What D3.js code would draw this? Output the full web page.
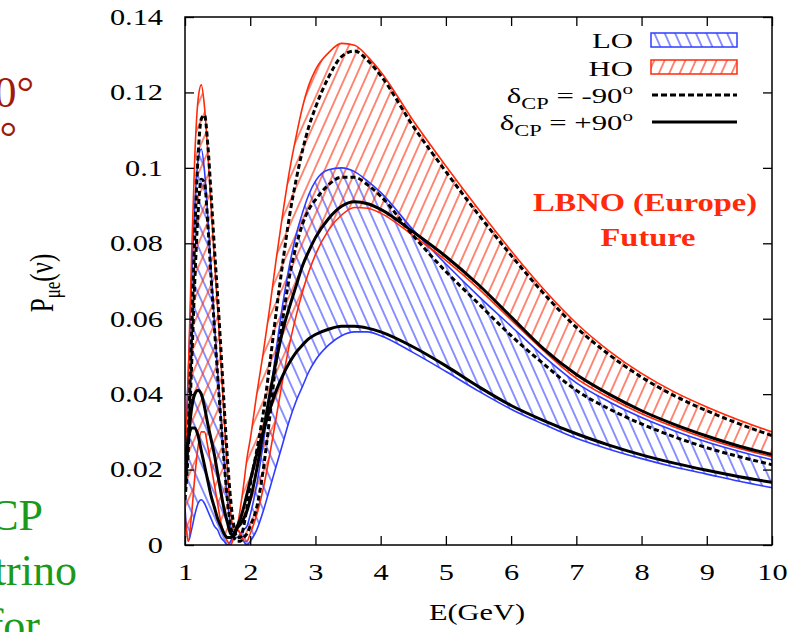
<!DOCTYPE html>
<html>
<head>
<meta charset="utf-8">
<script src="https://cdn.jsdelivr.net/npm/d3@7"></script>
<style>
  body { margin: 0; background: #fff; }
  svg { display: block; }
</style>
</head>
<body>
<svg id="chart" width="811" height="632"></svg>
<script>
// energies (GeV)
const energy = [1.00,1.05,1.10,1.15,1.20,1.25,1.30,1.35,1.40,1.45,1.50,1.55,1.60,1.65,1.70,1.75,1.80,1.85,1.90,1.95,2.00,
  2.1,2.2,2.3,2.4,2.5,2.6,2.7,2.8,2.9,3.0,3.2,3.4,3.6,3.8,4.0,4.5,5.0,5.5,6.0,6.5,7.0,7.5,8.0,8.5,9.0,9.5,10.0];

// HO band edges
const hoUpper = [0.020,0.045,0.076,0.103,0.118,0.122,0.116,0.104,0.090,0.076,0.063,0.049,0.034,0.020,0.009,0.004,0.005,0.010,0.016,0.023,0.028,
  0.040,0.051,0.063,0.076,0.088,0.099,0.108,0.116,0.122,0.126,0.1305,0.133,0.1325,0.1295,0.1255,0.1125,0.1005,0.089,0.078,0.0678,0.0588,0.0515,0.0455,0.0406,0.0366,0.0331,0.030];
const hoLower = [0.008,0.001,0.008,0.018,0.026,0.030,0.030,0.026,0.021,0.016,0.011,0.006,0.003,0.001,0.000,0.002,0.004,0.003,0.001,0.001,0.003,
  0.008,0.015,0.024,0.034,0.044,0.053,0.0605,0.067,0.0725,0.077,0.0835,0.0875,0.0895,0.0893,0.088,0.082,0.0755,0.068,0.0597,0.0515,0.0442,0.0391,0.0348,0.0313,0.0282,0.0256,0.0234];
// LO band edges
const loUpper = [0.025,0.045,0.070,0.090,0.102,0.105,0.099,0.087,0.073,0.059,0.046,0.034,0.022,0.012,0.005,0.002,0.002,0.003,0.004,0.005,0.008,
  0.016,0.027,0.039,0.052,0.064,0.074,0.082,0.088,0.093,0.0965,0.0995,0.100,0.099,0.0965,0.0935,0.0835,0.0745,0.066,0.058,0.050,0.043,0.038,0.0338,0.0303,0.0273,0.0248,0.0226];
const loLower = [0.010,0.001,0.004,0.008,0.011,0.012,0.011,0.009,0.007,0.005,0.004,0.002,0.001,0.000,0.001,0.003,0.004,0.003,0.001,0.000,0.001,
  0.004,0.009,0.015,0.021,0.027,0.033,0.038,0.042,0.046,0.049,0.053,0.0555,0.0565,0.0565,0.0555,0.051,0.046,0.0408,0.036,0.032,0.0283,0.0254,0.0229,0.0207,0.0188,0.0169,0.0152];

// delta_CP = -90 (dashed) and +90 (solid)
const hoMinus90 = [0.015,0.030,0.055,0.082,0.103,0.113,0.114,0.106,0.093,0.079,0.066,0.052,0.037,0.023,0.012,0.005,0.002,0.002,0.005,0.010,0.016,
  0.025,0.035,0.048,0.062,0.075,0.087,0.0965,0.1045,0.111,0.116,0.124,0.1295,0.131,0.1285,0.1245,0.111,0.099,0.0876,0.0768,0.0667,0.0577,0.0505,0.0445,0.0396,0.0356,0.0321,0.029];
const hoPlus90 = [0.018,0.028,0.036,0.040,0.041,0.040,0.0365,0.032,0.028,0.024,0.019,0.014,0.0095,0.006,0.003,0.0025,0.0045,0.0055,0.007,0.009,0.012,
  0.020,0.030,0.040,0.049,0.057,0.063,0.0685,0.074,0.078,0.0815,0.0865,0.0898,0.091,0.0905,0.089,0.083,0.0765,0.069,0.0605,0.052,0.0452,0.040,0.0356,0.032,0.0289,0.0262,0.024];
const loMinus90 = [0.012,0.025,0.047,0.070,0.088,0.097,0.096,0.085,0.071,0.058,0.045,0.033,0.022,0.012,0.005,0.002,0.001,0.001,0.002,0.003,0.005,
  0.010,0.020,0.034,0.049,0.060,0.071,0.079,0.085,0.089,0.0915,0.0955,0.0975,0.0975,0.0955,0.0925,0.082,0.0725,0.064,0.0555,0.048,0.041,0.0361,0.0321,0.0287,0.0258,0.0234,0.0213];
const loPlus90 = [0.022,0.028,0.031,0.031,0.029,0.025,0.021,0.017,0.013,0.010,0.007,0.005,0.003,0.002,0.002,0.003,0.005,0.007,0.010,0.0135,0.017,
  0.024,0.030,0.036,0.041,0.045,0.0483,0.051,0.053,0.0547,0.0558,0.0572,0.058,0.058,0.0575,0.0565,0.0525,0.0475,0.042,0.037,0.033,0.0295,0.0265,0.0239,0.0217,0.0198,0.0181,0.0166];

const xTicks = [1,2,3,4,5,6,7,8,9,10];
const yTicks = [0,0.02,0.04,0.06,0.08,0.1,0.12,0.14];

const red = "#ff2a0a", blue = "#2f3cff";
const serif = "'Liberation Serif', 'DejaVu Serif', serif";
const sx = 1.32; // the plot image is stretched sideways in the slide, so is its text

const svg = d3.select("#chart");
const x = d3.scaleLinear().domain([1, 10]).range([185, 772]);
const y = d3.scaleLinear().domain([0, 0.14]).range([545, 17]);

const defs = svg.append("defs");
function hatch(id, color, angle) {
  defs.append("pattern")
    .attr("id", id)
    .attr("patternUnits", "userSpaceOnUse")
    .attr("width", 9.5).attr("height", 9.5)
    .attr("patternTransform", `rotate(${angle})`)
    .append("line")
    .attr("x1", 4.75).attr("y1", 0).attr("x2", 4.75).attr("y2", 9.5)
    .attr("stroke", color).attr("stroke-width", 1.1);
}
hatch("hatchLO", blue, -24);
hatch("hatchHO", red, 24);

defs.append("clipPath").attr("id", "plotClip")
  .append("rect").attr("x", x(1)).attr("y", y(0.14))
  .attr("width", x(10) - x(1)).attr("height", y(0) - y(0.14));

const plot = svg.append("g").attr("clip-path", "url(#plotClip)");

const band = (lo, hi) => d3.area()
  .x((d, i) => x(energy[i]))
  .y0((d, i) => y(lo[i]))
  .y1((d, i) => y(hi[i]))
  .curve(d3.curveMonotoneX)(energy);
const line = vals => d3.line()
  .x((d, i) => x(energy[i]))
  .y((d, i) => y(vals[i]))
  .curve(d3.curveMonotoneX)(energy);

plot.append("path").attr("d", band(loLower, loUpper)).attr("fill", "url(#hatchLO)");
plot.append("path").attr("d", band(hoLower, hoUpper)).attr("fill", "url(#hatchHO)");

[[loUpper, blue], [loLower, blue], [hoUpper, red], [hoLower, red]].forEach(([v, c]) => {
  plot.append("path").attr("d", line(v)).attr("fill", "none")
    .attr("stroke", c).attr("stroke-width", 1.6);
});

[[hoMinus90, true], [loMinus90, true], [hoPlus90, false], [loPlus90, false]].forEach(([v, dashed]) => {
  plot.append("path").attr("d", line(v)).attr("fill", "none")
    .attr("stroke", "#000").attr("stroke-width", 3)
    .attr("stroke-dasharray", dashed ? "5,3" : null);
});

// frame and inward ticks
svg.append("rect").attr("x", x(1)).attr("y", y(0.14))
  .attr("width", x(10) - x(1)).attr("height", y(0) - y(0.14))
  .attr("fill", "none").attr("stroke", "#000").attr("stroke-width", 1.5);

const axisStyle = g => {
  g.select(".domain").remove();
  g.selectAll("line").attr("stroke", "#000").attr("stroke-width", 1.3);
  g.selectAll("text").attr("font-family", serif).attr("font-size", 23).attr("fill", "#000");
};
svg.append("g").attr("transform", `translate(0,${y(0)})`)
  .call(d3.axisBottom(x).tickValues(xTicks).tickSize(-9).tickFormat(d3.format("d")))
  .call(axisStyle)
  .call(g => g.selectAll("text").attr("y", 35).attr("dy", null).attr("transform", `scale(${sx},1)`));
svg.append("g").attr("transform", `translate(0,${y(0.14)})`)
  .call(d3.axisTop(x).tickValues(xTicks).tickSize(-9).tickFormat(""))
  .call(axisStyle);
svg.append("g").attr("transform", `translate(${x(1)},0)`)
  .call(d3.axisLeft(y).tickValues(yTicks).tickSize(-9).tickFormat(d => d === 0 ? "0" : String(+d.toFixed(2))))
  .call(axisStyle)
  .call(g => g.selectAll("text").attr("x", -22 / sx).attr("transform", `scale(${sx},1)`));
svg.append("g").attr("transform", `translate(${x(10)},0)`)
  .call(d3.axisRight(y).tickValues(yTicks).tickSize(-9).tickFormat(""))
  .call(axisStyle);

// axis titles
svg.append("text").attr("transform", `translate(477,620) scale(${sx},1)`).attr("text-anchor", "middle")
  .attr("font-family", serif).attr("font-size", 23).text("E(GeV)");
const yl = svg.append("text").attr("transform", `translate(53,283) rotate(-90) scale(1,${sx})`)
  .attr("text-anchor", "middle").attr("font-family", serif).attr("font-size", 25);
yl.append("tspan").text("P");
yl.append("tspan").attr("font-size", 17).attr("dy", 5).text("μe");
yl.append("tspan").attr("dy", -5).text("(ν)");

// legend
const legend = svg.append("g").attr("font-family", serif).attr("font-size", 22);
const legendText = (yy) => legend.append("text")
  .attr("transform", `translate(633,${yy}) scale(1.4,1)`).attr("text-anchor", "end");
legendText(48).text("LO");
legendText(76).text("HO");
[["-90", 103], ["+90", 130]].forEach(([v, yy]) => {
  const t = legendText(yy);
  t.append("tspan").text("δ");
  t.append("tspan").attr("font-size", 16).attr("dy", 6).text("CP");
  t.append("tspan").attr("dy", -6).text(` = ${v}`);
  t.append("tspan").attr("font-size", 15).attr("dy", -9).text("o");
});
legend.append("rect").attr("x", 651).attr("y", 33).attr("width", 86).attr("height", 14)
  .attr("fill", "url(#hatchLO)").attr("stroke", blue).attr("stroke-width", 1.5);
legend.append("rect").attr("x", 651).attr("y", 60).attr("width", 86).attr("height", 14)
  .attr("fill", "url(#hatchHO)").attr("stroke", red).attr("stroke-width", 1.5);
legend.append("line").attr("x1", 652).attr("x2", 737).attr("y1", 95).attr("y2", 95)
  .attr("stroke", "#000").attr("stroke-width", 3).attr("stroke-dasharray", "6,3");
legend.append("line").attr("x1", 652).attr("x2", 737).attr("y1", 122).attr("y2", 122)
  .attr("stroke", "#000").attr("stroke-width", 3);

// experiment label
const note = svg.append("g").attr("font-family", serif).attr("font-size", 25)
  .attr("font-weight", "bold").attr("fill", red).attr("text-anchor", "middle");
note.append("text").attr("transform", `translate(645,211) scale(1.3,1)`).text("LBNO (Europe)");
note.append("text").attr("transform", `translate(648,246) scale(1.3,1)`).text("Future");

// cropped slide text at the left edge
const side = svg.append("g").attr("font-family", serif).attr("font-size", 44);
side.append("text").attr("x", 34).attr("y", 107).attr("text-anchor", "end").attr("fill", "#a01a0c").text("0°");
side.append("text").attr("x", 17).attr("y", 152).attr("text-anchor", "end").attr("fill", "#a01a0c").text("°");
side.append("text").attr("x", 43).attr("y", 530).attr("text-anchor", "end").attr("fill", "#1a9a1a").text("CP");
side.append("text").attr("x", 77).attr("y", 585).attr("text-anchor", "end").attr("fill", "#1a9a1a").text("trino");
side.append("text").attr("x", 40).attr("y", 640).attr("text-anchor", "end").attr("fill", "#1a9a1a").text("for");
</script>
</body>
</html>
